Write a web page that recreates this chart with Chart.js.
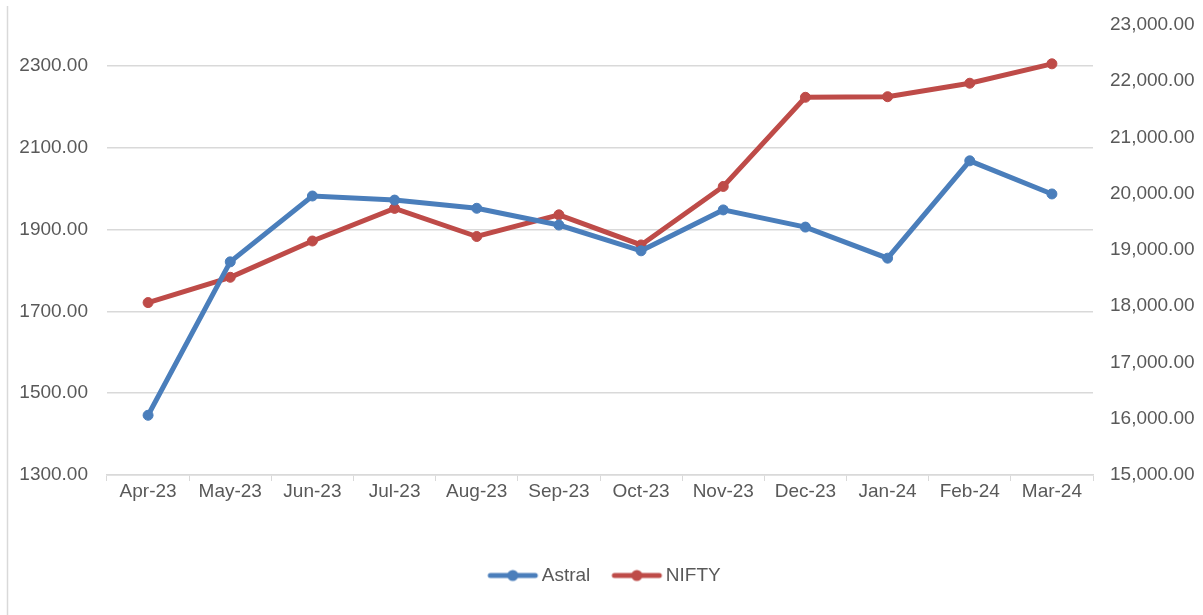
<!DOCTYPE html>
<html>
<head>
<meta charset="utf-8">
<script src="https://cdn.jsdelivr.net/npm/chart.js@4.4.1/dist/chart.umd.min.js"></script>
<style>
  html, body { margin: 0; padding: 0; background: #fff; }
  #wrap { width: 1203px; height: 615px; position: relative; }
</style>
</head>
<body>
<div id="wrap"><canvas id="chart" width="1203" height="615"></canvas></div>
<script>
// Data
const months = ['Apr-23', 'May-23', 'Jun-23', 'Jul-23', 'Aug-23', 'Sep-23', 'Oct-23', 'Nov-23', 'Dec-23', 'Jan-24', 'Feb-24', 'Mar-24'];
const astral = [1446, 1821, 1982, 1972, 1952, 1911, 1848, 1948, 1906, 1830, 2068, 1987];
const nifty = [18065, 18515, 19160, 19740, 19240, 19625, 19090, 20130, 21715, 21725, 21965, 22310];
const leftTicks = [1300, 1500, 1700, 1900, 2100, 2300];
const rightTicks = [15000, 16000, 17000, 18000, 19000, 20000, 21000, 22000, 23000];

const BLUE = '#4a7ebb';
const RED = '#be4b48';
const TEXT = '#595959';
const GRID = '#d9d9d9';
const FONT = "'Liberation Sans', Arial, sans-serif";
const FSIZE = 19;

// legend swatch: line with a dot in the middle, shifted right so the text sits close
function swatch(color) {
    const c = document.createElement('canvas');
    c.width = 64; c.height = 14;
    const g = c.getContext('2d');
    g.strokeStyle = color;
    g.lineWidth = 5;
    g.lineCap = 'round';
    g.beginPath();
    g.moveTo(15, 7);
    g.lineTo(60, 7);
    g.stroke();
    g.fillStyle = color;
    g.beginPath();
    g.arc(37.5, 7, 5.5, 0, Math.PI * 2);
    g.fill();
    return c;
}

const leftBorder = {
    id: 'leftBorder',
    beforeDraw(chart) {
        const ctx = chart.ctx;
        ctx.save();
        ctx.strokeStyle = GRID;
        ctx.lineWidth = 1.5;
        ctx.beginPath();
        ctx.moveTo(7.5, 6);
        ctx.lineTo(7.5, 615);
        ctx.stroke();
        ctx.restore();
    }
};

const ctx = document.getElementById('chart').getContext('2d');
new Chart(ctx, {
    type: 'line',
    data: {
        labels: months,
        datasets: [{
            label: 'Astral',
            data: astral,
            yAxisID: 'y',
            borderColor: BLUE,
            backgroundColor: BLUE,
            borderWidth: 5,
            pointRadius: 5,
            pointBorderWidth: 1,
            tension: 0
        }, {
            label: 'NIFTY',
            data: nifty,
            yAxisID: 'y1',
            borderColor: RED,
            backgroundColor: RED,
            borderWidth: 5,
            pointRadius: 5,
            pointBorderWidth: 1,
            tension: 0
        }]
    },
    options: {
        responsive: false,
        animation: false,
        layout: { padding: { top: 25, left: 0, right: 0, bottom: 20 } },
        plugins: {
            tooltip: { enabled: false },
            legend: {
                position: 'bottom',
                labels: {
                    color: TEXT,
                    font: { family: FONT, size: FSIZE },
                    usePointStyle: true,
                    pointStyleWidth: 50,
                    padding: 16,
                    generateLabels(chart) {
                        return chart.data.datasets.map((ds, i) => ({
                            text: ds.label,
                            fontColor: TEXT,
                            pointStyle: swatch(ds.borderColor),
                            datasetIndex: i,
                            hidden: false,
                            lineWidth: 0
                        }));
                    }
                }
            }
        },
        scales: {
            x: {
                offset: true,
                grid: { offset: true, drawOnChartArea: false, drawTicks: true, tickLength: 6, color: GRID },
                border: { color: GRID, width: 1.5 },
                ticks: { color: TEXT, font: { family: FONT, size: FSIZE, lineHeight: 1 }, padding: 1, maxRotation: 0 },
                afterFit(s) { s.height = 75; }
            },
            y: {
                position: 'left',
                min: 1300,
                max: 2400,
                afterBuildTicks(s) { s.ticks = leftTicks.map(v => ({ value: v })); },
                grid: { color: GRID, lineWidth: 1.5, drawTicks: false },
                border: { display: false },
                ticks: {
                    color: TEXT,
                    font: { family: FONT, size: FSIZE },
                    padding: 19,
                    callback: v => Number(v).toFixed(2)
                },
                afterFit(s) { s.width = 107; s.paddingTop = 0; s.paddingBottom = 0; }
            },
            y1: {
                position: 'right',
                min: 15000,
                max: 23000,
                afterBuildTicks(s) { s.ticks = rightTicks.map(v => ({ value: v })); },
                grid: { drawOnChartArea: false, drawTicks: false },
                border: { display: false },
                ticks: {
                    color: TEXT,
                    font: { family: FONT, size: FSIZE },
                    padding: 17,
                    callback: v => Number(v).toLocaleString('en-US', { minimumFractionDigits: 2, maximumFractionDigits: 2 })
                },
                afterFit(s) { s.width = 110; s.paddingTop = 0; s.paddingBottom = 0; }
            }
        }
    },
    plugins: [leftBorder]
});
</script>
</body>
</html>
